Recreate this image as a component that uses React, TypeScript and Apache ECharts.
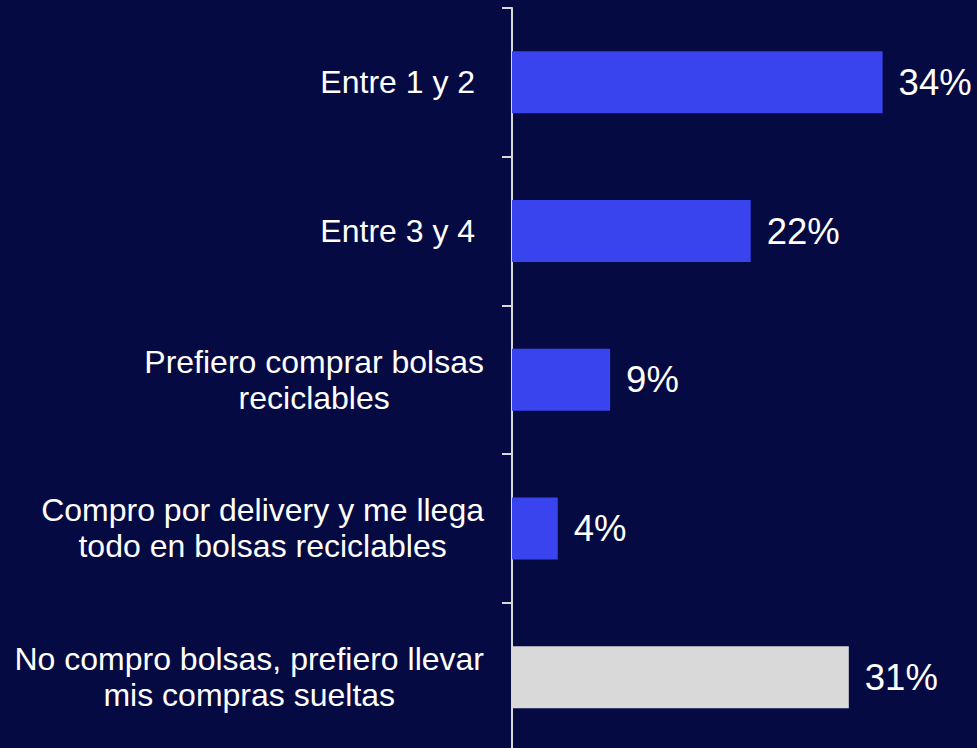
import React, { useEffect, useRef } from "react";
import * as echarts from "echarts";

const categories = [
  "Entre 1 y 2 ",
  "Entre 3 y 4 ",
  "Prefiero comprar bolsas\nreciclables",
  "Compro por delivery y me llega\ntodo en bolsas reciclables",
  "No compro bolsas, prefiero llevar\nmis compras sueltas",
];
const values = [34.0, 21.9, 9.0, 4.2, 30.9];
const barColors = ["#3A44EE", "#3A44EE", "#3A44EE", "#3A44EE", "#D9D9D9"];

const FONT = "'Liberation Sans', Arial, sans-serif";

export default function App() {
  const ref = useRef<HTMLDivElement>(null);
  useEffect(() => {
    if (!ref.current) return;
    const chart = echarts.init(ref.current, undefined, { renderer: "svg" });
    chart.setOption({
      animation: false,
      backgroundColor: "#060A42",
      grid: {
        left: 512,
        width: 436,
        top: 8,
        height: 743.5,
        containLabel: false,
        outerBoundsMode: "none",
      },
      xAxis: {
        type: "value",
        min: 0,
        max: 40,
        show: false,
      },
      yAxis: {
        type: "category",
        inverse: true,
        data: categories,
        axisLine: { show: true, lineStyle: { color: "#D9D9D9", width: 2 } },
        axisTick: { show: true, length: 10, lineStyle: { color: "#D9D9D9", width: 2 } },
        axisLabel: {
          margin: 28,
          align: "right",
          color: "#FFFFFF",
          fontFamily: FONT,
          fontSize: 32,
          lineHeight: 36,
          formatter: (v: string) =>
            v
              .split("\n")
              .map((l) => `{c|${l}}`)
              .join("\n"),
          rich: {
            c: {
              align: "center",
              color: "#FFFFFF",
              fontFamily: FONT,
              fontSize: 32,
              lineHeight: 36,
            },
          },
        },
        splitLine: { show: false },
      },
      series: [
        {
          type: "bar",
          barWidth: 62,
          data: values.map((v, i) => ({ value: v, itemStyle: { color: barColors[i] } })),
          label: {
            show: true,
            position: "right",
            distance: 16,
            color: "#FFFFFF",
            fontFamily: FONT,
            fontSize: 36.5,
            formatter: (p: any) => `${Math.round(p.value)}%`,
          },
        },
      ],
    });
    return () => chart.dispose();
  }, []);
  return (
    <div
      ref={ref}
      style={{ position: "fixed", left: 0, top: 0, width: 977, height: 748 }}
    />
  );
}
